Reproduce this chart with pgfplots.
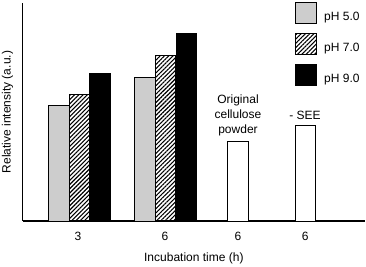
\documentclass[border=0pt]{standalone}
\usepackage{pgfplots}
\pgfplotsset{compat=1.18}
\usepackage{fontspec}
\setmainfont{Liberation Sans}
\usetikzlibrary{patterns.meta}
\definecolor{lgray}{RGB}{205,205,205}
\pgfplotsset{myleg/.style={legend image code/.code={\draw[##1,line width=1pt] (0pt,-6.5pt) rectangle (21pt,14.5pt);}}}
\begin{document}
\begin{tikzpicture}
\begin{axis}[
  scale only axis, width=342.3pt, height=218pt,
  xmin=22.7, xmax=365, ymin=0, ymax=218,
  axis lines=left, axis line style={-, line width=1.4pt},
  ytick=\empty,
  xtick={78,165,238,305.3}, xticklabels={3,6,6,6},
  major tick length=0pt,
  tick label style={font=\fontsize{12}{14}\selectfont},
  xticklabel style={yshift=-8pt},
  xlabel={Incubation time (h)}, ylabel={Relative intensity (a.u.)},
  label style={font=\fontsize{12}{14}\selectfont},
  xlabel style={at={(axis description cs:0.5,-0.1697)}, anchor=center},
  ylabel style={at={(axis description cs:-0.0444,0.5)}, anchor=center},
  legend style={at={(0.7955,1.006)}, anchor=north west, draw=none, fill=none, inner sep=0pt, row sep=9pt, column sep=7pt, nodes={inner sep=0pt}, font=\fontsize{12}{14}\selectfont},
  legend cell align=left,
]
\addplot[ybar, bar shift=0pt, bar width=20.5, fill=lgray, draw=black, line width=1pt, myleg] coordinates {(59.2,115.7) (145,143.7)};
\addlegendentry{pH 5.0}
\addplot[ybar, bar shift=0pt, bar width=20.5, draw=black, line width=1pt, pattern={Lines[angle=45,distance=3pt,line width=1.1pt]}, pattern color=black, myleg] coordinates {(79.3,126.7) (165.4,165.3)};
\addlegendentry{pH 7.0}
\addplot[ybar, bar shift=0pt, bar width=20.5, fill=black, draw=black, line width=1pt, myleg] coordinates {(100,147) (186.5,187)};
\addlegendentry{pH 9.0}
\addplot[ybar, bar shift=0pt, bar width=20.5, fill=white, draw=black, line width=1pt, forget plot] coordinates {(238,79.7) (305.3,95)};
\node[align=center, font=\fontsize{12}{15}\selectfont] at (axis cs:238,105.7) {Original\\cellulose\\powder};
\node[font=\fontsize{12}{15}\selectfont] at (axis cs:305,105.3) {- SEE};
\end{axis}
\pgfresetboundingbox
\path (-22.7pt,-46pt) rectangle (343.3pt,221pt);
\end{tikzpicture}
\end{document}
